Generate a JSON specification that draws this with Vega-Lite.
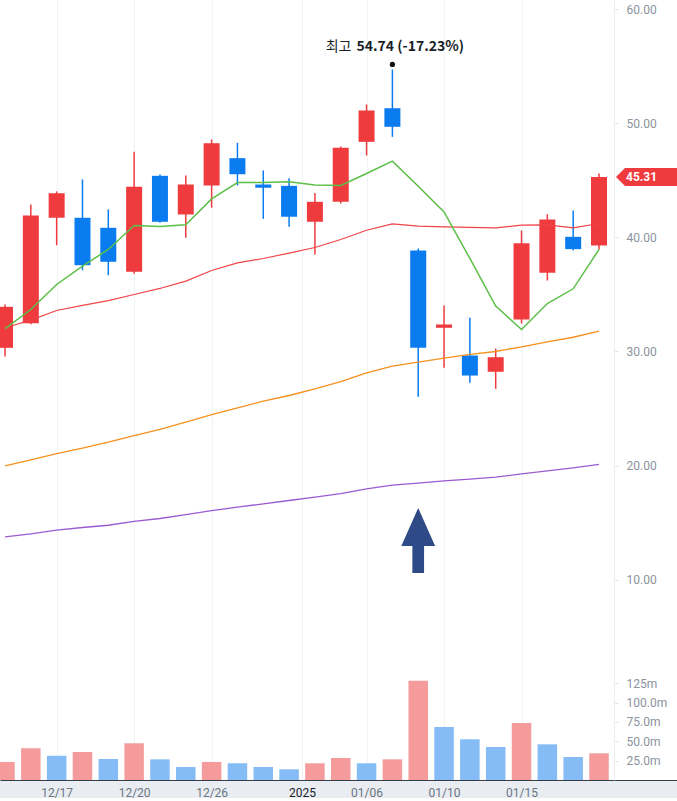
{
  "$schema": "https://vega.github.io/schema/vega-lite/v6.json",
  "background": "#E9ECF1",
  "padding": 0,
  "spacing": 0,
  "bounds": "flush",
  "datasets": {
    "candles": [
      {"i": 0, "date": "12/13", "open": 30.32, "high": 34.12, "low": 29.56, "close": 33.92, "ma5": 32.0, "ma20": 32.08, "ma60": 19.97, "ma120": 13.74, "volume": 23300000, "vdir": "up"},
      {"i": 1, "date": "12/16", "open": 32.48, "high": 42.89, "low": 32.4, "close": 41.93, "ma5": 33.68, "ma20": 32.75, "ma60": 20.5, "ma120": 14.0, "volume": 41000000, "vdir": "up"},
      {"i": 2, "date": "12/17", "open": 41.73, "high": 44.04, "low": 39.32, "close": 43.89, "ma5": 35.88, "ma20": 33.6, "ma60": 21.05, "ma120": 14.33, "volume": 31400000, "vdir": "down"},
      {"i": 3, "date": "12/18", "open": 41.73, "high": 45.09, "low": 37.13, "close": 37.57, "ma5": 37.49, "ma20": 34.04, "ma60": 21.52, "ma120": 14.56, "volume": 36200000, "vdir": "up"},
      {"i": 4, "date": "12/19", "open": 40.85, "high": 42.46, "low": 36.69, "close": 37.87, "ma5": 38.95, "ma20": 34.47, "ma60": 22.05, "ma120": 14.76, "volume": 27100000, "vdir": "down"},
      {"i": 5, "date": "12/20", "open": 36.99, "high": 47.52, "low": 36.82, "close": 44.45, "ma5": 41.05, "ma20": 35.0, "ma60": 22.63, "ma120": 15.09, "volume": 47400000, "vdir": "up"},
      {"i": 6, "date": "12/23", "open": 45.41, "high": 45.53, "low": 41.29, "close": 41.38, "ma5": 40.96, "ma20": 35.53, "ma60": 23.16, "ma120": 15.35, "volume": 26700000, "vdir": "down"},
      {"i": 7, "date": "12/24", "open": 42.02, "high": 45.44, "low": 39.97, "close": 44.65, "ma5": 41.11, "ma20": 36.17, "ma60": 23.8, "ma120": 15.7, "volume": 16800000, "vdir": "down"},
      {"i": 8, "date": "12/26", "open": 44.56, "high": 48.6, "low": 42.61, "close": 48.27, "ma5": 43.39, "ma20": 37.11, "ma60": 24.47, "ma120": 16.05, "volume": 23300000, "vdir": "up"},
      {"i": 9, "date": "12/27", "open": 46.96, "high": 48.31, "low": 44.56, "close": 45.55, "ma5": 44.82, "ma20": 37.78, "ma60": 25.06, "ma120": 16.34, "volume": 21600000, "vdir": "down"},
      {"i": 10, "date": "12/30", "open": 44.65, "high": 45.88, "low": 41.64, "close": 44.36, "ma5": 44.82, "ma20": 38.16, "ma60": 25.64, "ma120": 16.64, "volume": 16800000, "vdir": "down"},
      {"i": 11, "date": "12/31", "open": 44.53, "high": 45.2, "low": 40.94, "close": 41.82, "ma5": 44.88, "ma20": 38.63, "ma60": 26.14, "ma120": 16.93, "volume": 13800000, "vdir": "down"},
      {"i": 12, "date": "01/02", "open": 41.38, "high": 43.9, "low": 38.51, "close": 43.13, "ma5": 44.6, "ma20": 39.12, "ma60": 26.73, "ma120": 17.22, "volume": 21600000, "vdir": "up"},
      {"i": 13, "date": "01/03", "open": 43.13, "high": 47.98, "low": 42.98, "close": 47.87, "ma5": 44.56, "ma20": 39.82, "ma60": 27.36, "ma120": 17.54, "volume": 28400000, "vdir": "up"},
      {"i": 14, "date": "01/06", "open": 48.39, "high": 51.67, "low": 47.19, "close": 51.14, "ma5": 45.61, "ma20": 40.64, "ma60": 28.13, "ma120": 17.95, "volume": 21600000, "vdir": "down"},
      {"i": 15, "date": "01/07", "open": 51.34, "high": 54.74, "low": 48.83, "close": 49.71, "ma5": 46.7, "ma20": 41.2, "ma60": 28.71, "ma120": 18.27, "volume": 26700000, "vdir": "up"},
      {"i": 16, "date": "01/08", "open": 38.86, "high": 39.04, "low": 26.03, "close": 30.32, "ma5": 44.5, "ma20": 40.99, "ma60": 29.06, "ma120": 18.45, "volume": 128300000, "vdir": "up"},
      {"i": 17, "date": "01/10", "open": 32.08, "high": 34.04, "low": 28.57, "close": 32.37, "ma5": 42.25, "ma20": 40.94, "ma60": 29.41, "ma120": 18.65, "volume": 68500000, "vdir": "down"},
      {"i": 18, "date": "01/13", "open": 29.65, "high": 32.96, "low": 27.25, "close": 27.89, "ma5": 38.16, "ma20": 40.88, "ma60": 29.74, "ma120": 18.8, "volume": 52600000, "vdir": "down"},
      {"i": 19, "date": "01/14", "open": 28.22, "high": 30.26, "low": 26.73, "close": 29.5, "ma5": 33.98, "ma20": 40.85, "ma60": 30.0, "ma120": 18.98, "volume": 42600000, "vdir": "down"},
      {"i": 20, "date": "01/15", "open": 32.81, "high": 40.61, "low": 32.46, "close": 39.5, "ma5": 31.93, "ma20": 41.08, "ma60": 30.41, "ma120": 19.27, "volume": 73600000, "vdir": "up"},
      {"i": 21, "date": "01/16", "open": 36.9, "high": 42.04, "low": 36.23, "close": 41.58, "ma5": 34.21, "ma20": 41.11, "ma60": 30.85, "ma120": 19.53, "volume": 46100000, "vdir": "down"},
      {"i": 22, "date": "01/17", "open": 40.06, "high": 42.37, "low": 38.86, "close": 38.98, "ma5": 35.5, "ma20": 40.85, "ma60": 31.25, "ma120": 19.8, "volume": 29700000, "vdir": "down"},
      {"i": 23, "date": "01/21", "open": 39.3, "high": 45.61, "low": 38.95, "close": 45.31, "ma5": 38.95, "ma20": 41.23, "ma60": 31.78, "ma120": 20.09, "volume": 34500000, "vdir": "up"}
    ],
    "high": [
      {"i": 15, "price": 54.74, "prefix": "최고", "value": "54.74 (-17.23%)"}
    ],
    "arrow": [
      {"i": 16, "price": 13.42}
    ]
  },
  "vconcat": [
    {
      "width": 677,
      "height": 643,
      "data": {"name": "candles"},
      "encoding": {
        "x": {
          "field": "i",
          "type": "quantitative",
          "scale": {"domain": [-0.1936, 26.02], "nice": false, "zero": false, "padding": 0},
          "axis": {
            "title": null,
            "values": [2, 5, 8, 11.5, 14, 17, 20],
            "labels": false,
            "ticks": false,
            "grid": true,
            "gridColor": "#F2F3F5",
            "domainColor": "#C6C9CE"
          }
        }
      },
      "layer": [
        {
          "mark": {"type": "rule", "strokeWidth": 1.5, "clip": true},
          "encoding": {
            "y": {
              "field": "low",
              "type": "quantitative",
              "title": null,
              "scale": {"domain": [4.43, 60.833], "nice": false, "zero": false},
              "axis": {
                "orient": "right",
                "offset": -63,
                "values": [10, 20, 30, 40, 50, 60],
                "format": ".2f",
                "grid": false,
                "domainColor": "#EDEFF2",
                "tickColor": "#E1E4E8",
                "tickSize": 4,
                "labelPadding": 8,
                "labelColor": "#8B939E",
                "labelFontSize": 12
              }
            },
            "y2": {"field": "high"},
            "color": {"condition": {"test": "datum.close >= datum.open", "value": "#EF3B3E"}, "value": "#0B7CF0"}
          }
        },
        {
          "mark": {"type": "bar", "width": 16, "clip": true},
          "encoding": {
            "y": {"field": "open", "type": "quantitative", "title": null},
            "y2": {"field": "close"},
            "color": {"condition": {"test": "datum.close >= datum.open", "value": "#EF3B3E"}, "value": "#0B7CF0"}
          }
        },
        {
          "mark": {"type": "line", "color": "#9A5BD1", "strokeWidth": 1.3},
          "encoding": {"y": {"field": "ma120", "type": "quantitative", "title": null}}
        },
        {
          "mark": {"type": "line", "color": "#F7901E", "strokeWidth": 1.3},
          "encoding": {"y": {"field": "ma60", "type": "quantitative", "title": null}}
        },
        {
          "mark": {"type": "line", "color": "#F04448", "strokeWidth": 1.2},
          "encoding": {"y": {"field": "ma20", "type": "quantitative", "title": null}}
        },
        {
          "mark": {"type": "line", "color": "#5CBF47", "strokeWidth": 1.5},
          "encoding": {"y": {"field": "ma5", "type": "quantitative", "title": null}}
        },
        {
          "data": {"name": "high"},
          "mark": {"type": "circle", "size": 28, "color": "#111111", "opacity": 1, "yOffset": -5},
          "encoding": {"y": {"field": "price", "type": "quantitative", "title": null}}
        },
        {
          "data": {"name": "high"},
          "mark": {"type": "text", "align": "right", "baseline": "middle", "dx": -41, "dy": -22, "fontSize": 14, "font": "Noto Sans CJK KR", "color": "#191F28"},
          "encoding": {
            "y": {"field": "price", "type": "quantitative", "title": null},
            "text": {"field": "prefix"}
          }
        },
        {
          "data": {"name": "high"},
          "mark": {"type": "text", "align": "left", "baseline": "middle", "dx": -36, "dy": -22, "fontSize": 14, "fontWeight": "bold", "font": "Noto Sans CJK KR", "color": "#191F28"},
          "encoding": {
            "y": {"field": "price", "type": "quantitative", "title": null},
            "text": {"field": "value"}
          }
        },
        {
          "data": {"name": "arrow"},
          "mark": {
            "type": "point",
            "shape": "M0,-1L0.52,0.17L0.18,0.17L0.18,1L-0.18,1L-0.18,0.17L-0.52,0.17Z",
            "filled": true,
            "color": "#2E4B87",
            "opacity": 1,
            "size": 4225
          },
          "encoding": {"y": {"field": "price", "type": "quantitative", "title": null}}
        },
        {
          "transform": [{"filter": "datum.i == 23"}],
          "mark": {
            "type": "point",
            "shape": "M-1,0L-0.705,-0.295L1,-0.295L1,0.295L-0.705,0.295Z",
            "filled": true,
            "color": "#EF3B3E",
            "opacity": 1,
            "size": 3721,
            "xOffset": 47.5
          },
          "encoding": {"y": {"field": "close", "type": "quantitative", "title": null}}
        },
        {
          "transform": [{"filter": "datum.i == 23"}],
          "mark": {"type": "text", "align": "left", "baseline": "middle", "dx": 27, "fontSize": 12, "fontWeight": "bold", "color": "white"},
          "encoding": {
            "y": {"field": "close", "type": "quantitative", "title": null},
            "text": {"field": "close", "type": "quantitative", "format": ".2f"}
          }
        }
      ]
    },
    {
      "width": 677,
      "height": 137,
      "data": {"name": "candles"},
      "mark": {"type": "bar", "width": 19.5, "clip": true},
      "encoding": {
        "x": {
          "field": "i",
          "type": "quantitative",
          "scale": {"domain": [-0.1936, 26.02], "nice": false, "zero": false, "padding": 0},
          "axis": {
            "title": null,
            "values": [2, 5, 8, 11.5, 14, 17, 20],
            "labelExpr": "datum.value == 2 ? '12/17' : datum.value == 5 ? '12/20' : datum.value == 8 ? '12/26' : datum.value == 11.5 ? '2025' : datum.value == 14 ? '01/06' : datum.value == 17 ? '01/10' : '01/15'",
            "ticks": false,
            "grid": true,
            "gridColor": "#F2F3F5",
            "domainColor": "#333D4B",
            "labelPadding": 7,
            "labelFontSize": 12,
            "labelColor": {"condition": {"test": "datum.value == 11.5", "value": "#191F28"}, "value": "#6B7684"}
          }
        },
        "y": {
          "field": "volume",
          "type": "quantitative",
          "title": null,
          "scale": {"domain": [0, 177000000], "nice": false},
          "axis": {
            "orient": "right",
            "offset": -63,
            "values": [25000000, 50000000, 75000000, 100000000, 125000000],
            "labelExpr": "datum.value == 125000000 ? '125m' : format(datum.value / 1000000, '.1f') + 'm'",
            "grid": false,
            "domainColor": "#EDEFF2",
            "tickColor": "#E1E4E8",
            "tickSize": 4,
            "labelPadding": 8,
            "labelColor": "#8B939E",
            "labelFontSize": 12
          }
        },
        "color": {
          "field": "vdir",
          "type": "nominal",
          "scale": {"domain": ["up", "down"], "range": ["#F59B9B", "#85BCF5"]},
          "legend": null
        }
      }
    }
  ],
  "config": {
    "font": "Roboto",
    "view": {"stroke": null, "fill": "white"},
    "axis": {"labelFont": "Roboto"}
  }
}
